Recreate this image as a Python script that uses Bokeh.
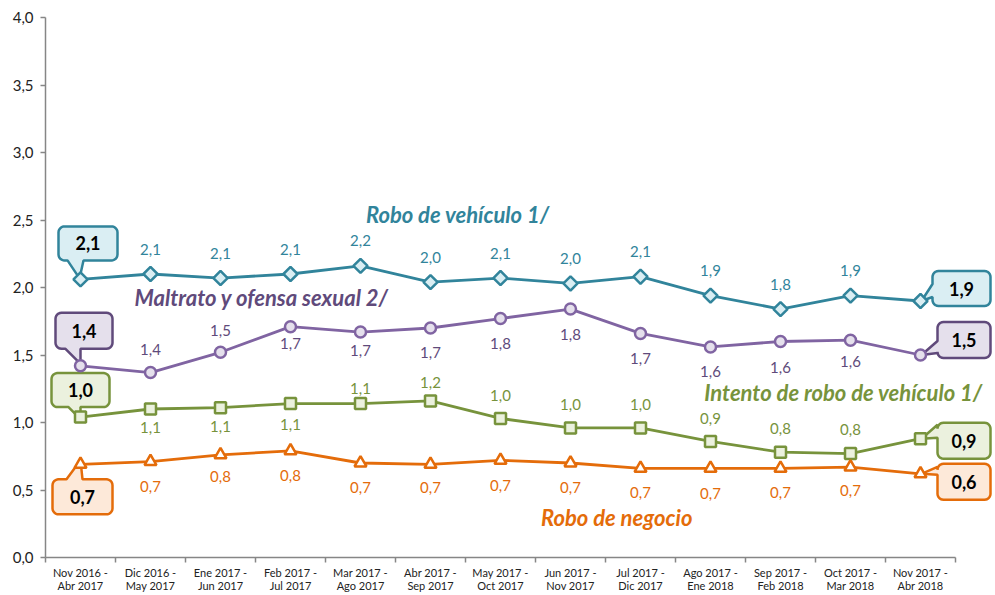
import math
from bokeh.plotting import figure
from bokeh.models import Range1d, FixedTicker, ColumnDataSource
from bokeh.core.properties import value
from bokeh.embed import file_html
from bokeh.resources import INLINE

# ---------------- data ----------------
periodos = [
    "Nov 2016 -\nAbr 2017", "Dic 2016 -\nMay 2017", "Ene 2017 -\nJun 2017",
    "Feb 2017 -\nJul 2017", "Mar 2017 -\nAgo 2017", "Abr 2017 -\nSep 2017",
    "May 2017 -\nOct 2017", "Jun 2017 -\nNov 2017", "Jul 2017 -\nDic 2017",
    "Ago 2017 -\nEne 2018", "Sep 2017 -\nFeb 2018", "Oct 2017 -\nMar 2018",
    "Nov 2017 -\nAbr 2018",
]
robo_vehiculo = [2.06, 2.10, 2.07, 2.10, 2.16, 2.04, 2.07, 2.03, 2.08, 1.94, 1.84, 1.94, 1.90]
maltrato_ofensa = [1.42, 1.37, 1.52, 1.71, 1.67, 1.70, 1.77, 1.84, 1.66, 1.56, 1.60, 1.61, 1.50]
intento_robo = [1.04, 1.10, 1.11, 1.14, 1.14, 1.16, 1.03, 0.96, 0.96, 0.86, 0.78, 0.77, 0.88]
robo_negocio = [0.69, 0.71, 0.76, 0.79, 0.70, 0.69, 0.72, 0.70, 0.66, 0.66, 0.66, 0.67, 0.62]
y_ticks = [0.0, 0.5, 1.0, 1.5, 2.0, 2.5, 3.0, 3.5, 4.0]

nombres = ["Robo de vehículo 1/", "Maltrato y ofensa sexual 2/",
           "Intento de robo de vehículo 1/", "Robo de negocio"]

# ---------------- layout / style ----------------
W, H = 995, 595
ML, MR, MT, MB = 45, 2, 17, 38
FW = W - ML - MR
FH = H - MT - MB
PX_PER_CAT = 70.0
X0 = -0.5
X1 = X0 + FW / PX_PER_CAT
XU = 1.0 / PX_PER_CAT          # data units per pixel (x)
YU = 4.0 / FH                  # data units per pixel (y)
FONT = "Lato"

def fmt(v):
    return f"{v:.1f}".replace(".", ",")

def callout_path(box, tail, r=6):
    x0, y0, x1, y1 = box
    edge, b1, b2, tip = tail
    pts = []
    def arc(cx, cy, a0, a1):
        for k in range(7):
            a = math.radians(a0 + (a1 - a0) * k / 6)
            pts.append((cx + r * math.cos(a), cy + r * math.sin(a)))
    arc(x0 + r, y0 + r, 180, 270)
    if edge == "top":
        pts.extend([(b1, y0), tip, (b2, y0)])
    arc(x1 - r, y0 + r, 270, 360)
    arc(x1 - r, y1 - r, 0, 90)
    if edge == "bottom":
        pts.extend([(b2, y1), tip, (b1, y1)])
    arc(x0 + r, y1 - r, 90, 180)
    if edge == "left":
        pts.extend([(x0, b2), tip, (x0, b1)])
    return pts

series = [
    dict(vals=robo_vehiculo, line="#31849B", text="#31849B", fill="#DAEEF3",
         border="#31849B", marker="square", angle=math.pi / 4, size=10,
         offs=[-25] * 11,
         title_pos=(5.39, 2.54),
         cl_left=((-22, -53, 37, -19), ("bottom", -13, 3, (-1, -1))),
         cl_right=((12, -30, 70, 5), ("left", -17, -4, (1, 0)))),
    dict(vals=maltrato_ofensa, line="#8064A2", text="#604A7B", fill="#E5E0EC",
         border="#604A7B", marker="circle", angle=0.0, size=11,
         offs=[-23, -22, 17, 18, 24, 25, 25, 25, 25, 26, 21],
         title_pos=(2.59, 1.925),
         cl_left=((-25, -53, 32, -17), ("bottom", -15, 0, (0, -2))),
         cl_right=((17, -33, 70, 3), ("left", -14, -2, (1, 0)))),
    dict(vals=intento_robo, line="#77933C", text="#77933C", fill="#EBF1DE",
         border="#77933C", marker="square", angle=0.0, size=11,
         offs=[18, 19, 21, -15, -18, -23, -23, -23, -23, -24, -24],
         title_pos=(10.9, 1.225),
         cl_left=((-29, -44, 29, -10), ("bottom", -12, 0, (0, 2))),
         cl_right=((17, -16, 70, 20), ("left", -14, -1, (1, 0)))),
    dict(vals=robo_negocio, line="#E46C0A", text="#E46C0A", fill="#FDE9D9",
         border="#E46C0A", marker="triangle", angle=0.0, size=12,
         offs=[25, 22, 25, 24, 23, 25, 24, 24, 25, 24, 23],
         title_pos=(7.66, 0.30),
         cl_left=((-28, 15, 32, 50), ("top", -14, 2, (0, -4))),
         cl_right=((17, -10, 70, 26), ("left", -7, 1, (1, 0)))),
]

p = figure(width=W, height=H, x_range=Range1d(X0, X1), y_range=Range1d(0, 4),
           output_backend="svg", toolbar_location=None,
           min_border_left=ML, min_border_right=MR,
           min_border_top=MT, min_border_bottom=MB)
p.outline_line_color = None
p.xgrid.grid_line_color = None
p.ygrid.grid_line_color = None
p.background_fill_color = "white"
p.border_fill_color = "white"

xs_idx = list(range(len(periodos)))

# callouts (drawn first so markers sit on top)
for s in series:
    vals = s["vals"]
    cxs, cys, tx, ty, txo, tyo, tt = [], [], [], [], [], [], []
    for idx, key in ((0, "cl_left"), (len(vals) - 1, "cl_right")):
        box, tail = s[key]
        path = callout_path(box, tail)
        cxs.append([xs_idx[idx] + px * XU for px, py in path])
        cys.append([vals[idx] - py * YU for px, py in path])
        tx.append(xs_idx[idx]); ty.append(vals[idx])
        txo.append((box[0] + box[2]) / 2.0); tyo.append((box[1] + box[3]) / 2.0)
        tt.append(fmt(vals[idx]))
    p.patches(xs=cxs, ys=cys, fill_color=s["fill"], line_color=s["border"], line_width=2.5)
    src = ColumnDataSource(dict(x=tx, y=ty, xo=txo, yo=tyo, t=tt))
    p.text(x="x", y="y", text="t", x_offset="xo", y_offset="yo", source=src,
           text_font=value(FONT), text_font_style="bold", text_font_size="18px",
           text_color="black", text_align="center", text_baseline="middle")

for s in series:
    vals = s["vals"]
    p.line(xs_idx, vals, line_color=s["line"], line_width=2.8)
    p.scatter(xs_idx, vals, marker=s["marker"], size=s["size"], angle=s["angle"],
              fill_color=s["fill"] if s["marker"] != "triangle" else "white",
              line_color=s["line"], line_width=2.5)
    mid = list(range(1, len(vals) - 1))
    src = ColumnDataSource(dict(x=[xs_idx[i] for i in mid], y=[vals[i] for i in mid],
                                t=[fmt(vals[i]) for i in mid], off=s["offs"]))
    p.text(x="x", y="y", text="t", y_offset="off", source=src,
           text_font=value(FONT), text_font_size="15px", text_color=s["text"],
           text_align="center", text_baseline="middle")

for s, name in zip(series, nombres):
    tx, ty = s["title_pos"]
    p.text(x=[tx], y=[ty], text=[name], text_font=value(FONT),
           text_font_style="bold italic", text_font_size="22px",
           text_color=s["text"], text_align="center", text_baseline="middle")

# axes
xa = p.xaxis[0]
xa.ticker = FixedTicker(ticks=xs_idx, minor_ticks=[i - 0.5 for i in range(len(periodos) + 1)])
xa.major_label_overrides = {i: lab for i, lab in enumerate(periodos)}
xa.bounds = (-0.5, len(periodos) - 0.5)
xa.major_tick_in = 0
xa.major_tick_out = 0
xa.minor_tick_in = 0
xa.minor_tick_out = 5
xa.axis_line_color = "#868686"
xa.axis_line_width = 1.5
xa.minor_tick_line_color = "#868686"
xa.minor_tick_line_width = 1.5
xa.major_label_text_font = FONT
xa.major_label_text_font_size = "11px"
xa.major_label_text_line_height = 1.0
xa.major_label_text_color = "#222222"
xa.major_label_standoff = 3

ya = p.yaxis[0]
ya.ticker = FixedTicker(ticks=y_ticks)
ya.major_label_overrides = {t: fmt(t) for t in y_ticks}
ya.major_tick_in = 0
ya.major_tick_out = 5
ya.minor_tick_in = 0
ya.minor_tick_out = 0
ya.axis_line_color = "#868686"
ya.axis_line_width = 1.5
ya.major_tick_line_color = "#868686"
ya.major_tick_line_width = 1.5
ya.major_label_text_font = FONT
ya.major_label_text_font_size = "15px"
ya.major_label_text_color = "#222222"
ya.major_label_standoff = 7

open("out.html", "w").write(file_html(p, INLINE))
